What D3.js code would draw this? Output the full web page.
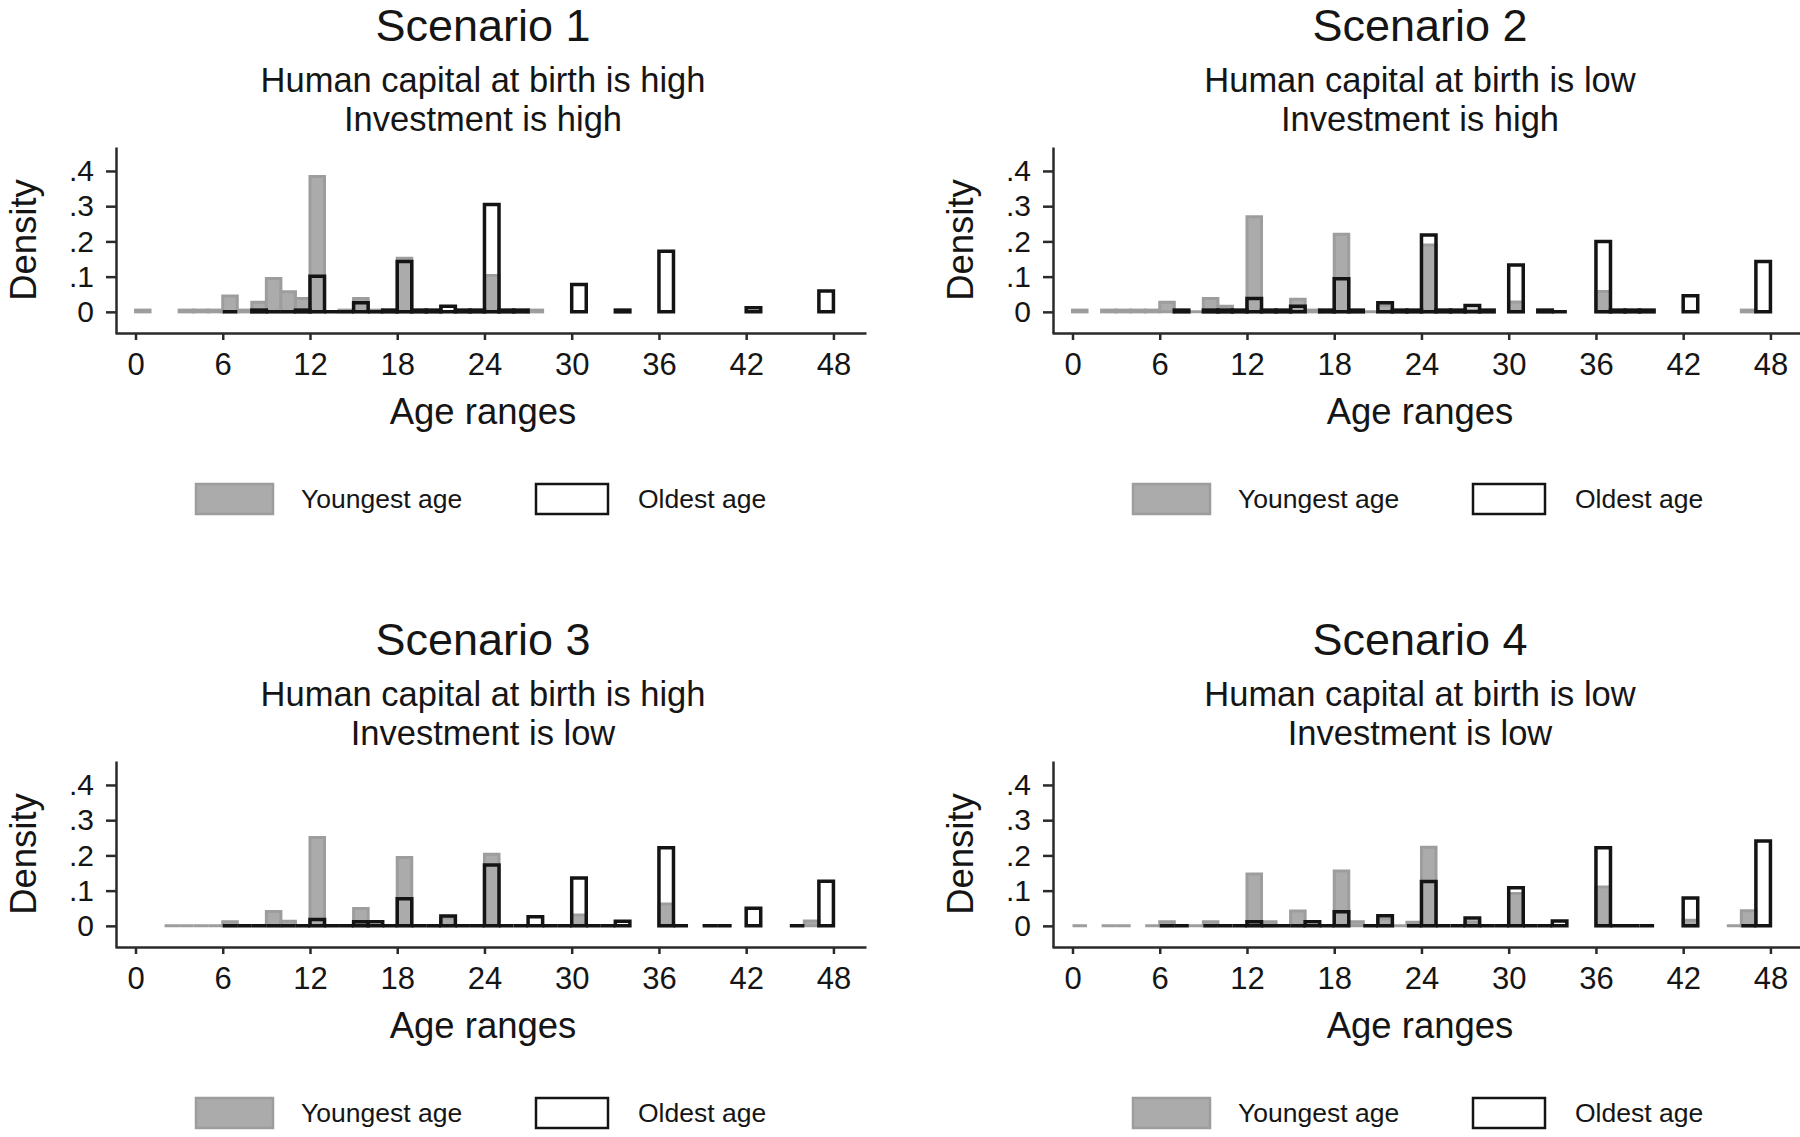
<!DOCTYPE html>
<html><head><meta charset="utf-8">
<script src="https://cdn.jsdelivr.net/npm/d3@7"></script>
<style>
body{margin:0;background:#fff}
svg{display:block}
text{font-family:"Liberation Sans",Arial,Helvetica,sans-serif;fill:#151515}
</style>
</head><body>
<svg id="chart" width="1800" height="1137"></svg>
<script>
const _ = null;
// bin start ages (months), each bin is one month wide
const binStarts = [0,1,2,3,4,5,6,7,8,9,10,11,12,13,14,15,16,17,18,19,20,21,22,23,24,25,26,27,28,29,30,31,32,33,34,35,36,37,38,39,40,41,42,43,44,45,46,47];
const xTicks = [0,6,12,18,24,30,36,42,48];
const yTicks = [0,0.1,0.2,0.3,0.4];
const yTickLabels = ["0",".1",".2",".3",".4"];
const scenarioTitles = ["Scenario 1","Scenario 2","Scenario 3","Scenario 4"];
const subtitleLine1 = ["Human capital at birth is high","Human capital at birth is low","Human capital at birth is high","Human capital at birth is low"];
const subtitleLine2 = ["Investment is high","Investment is high","Investment is low","Investment is low"];
const legendLabels = ["Youngest age","Oldest age"];
const xTitle = "Age ranges";
const yTitle = "Density";

// Scenario 1 densities (null = empty bin)
const youngest1 = [0.005,_,_,0.005,0.005,0.005,0.045,0.005,0.027,0.095,0.057,0.038,0.384,_,0.005,0.038,0.005,_,0.152,_,_,_,_,_,0.103,_,_,0.005,_,_,_,_,_,_,_,_,_,_,_,_,_,_,_,_,_,_,_,_];
const oldest1   = [_,_,_,_,_,_,0,_,0.005,0,0,0.005,0.101,0,0,0.026,0,0.005,0.143,0.005,0.005,0.016,0.005,0.005,0.305,0.005,0.005,_,_,_,0.078,_,_,0.005,_,_,0.172,_,_,_,_,_,0.012,_,_,_,_,0.059];
// Scenario 2
const youngest2 = [0.005,_,0.005,0.005,0.005,0.005,0.027,_,0,0.038,0.016,_,0.27,_,_,0.036,0.005,_,0.22,_,0,0.018,_,_,0.19,_,_,0.005,_,_,0.028,_,_,_,_,_,0.058,_,_,_,_,_,_,_,_,_,0.005,_];
const oldest2   = [_,_,_,_,_,_,_,0.005,_,0.005,0.005,0.005,0.038,0.005,0.005,0.016,_,0.005,0.094,0.005,_,0.026,0.005,0.005,0.218,0.005,0.005,0.018,0.005,_,0.133,_,0.005,0,_,_,0.2,0.005,0.005,0.005,_,_,0.046,_,_,_,_,0.143];
// Scenario 3
const youngest3 = [_,_,0,0,0,0,0.012,_,_,0.041,0.013,0,0.251,_,_,0.049,_,_,0.194,_,0,0.022,_,_,0.203,_,_,_,_,_,0.031,_,_,_,_,_,0.062,_,_,_,_,_,_,_,_,_,0.014,_];
const oldest3   = [_,_,_,_,_,_,0,0,0,0,0,0,0.018,0,0,0.012,0.012,0,0.077,0,0,0.028,0,0,0.173,0,0,0.026,0,0,0.136,0,0,0.013,_,_,0.222,0,_,0,0,_,0.05,_,_,0,_,0.127];
// Scenario 4
const youngest4 = [0,_,0,0,_,0,0.012,_,0,0.012,_,_,0.147,0.012,_,0.042,_,_,0.156,0.012,_,0.02,0,0.01,0.223,_,_,0.012,_,_,0.092,_,_,_,_,_,0.11,_,_,_,_,_,0.016,_,_,0,0.043,_];
const oldest4   = [_,_,_,_,_,_,0,0,_,0,0,0,0.012,0,0,0,0.012,0,0.04,_,0,0.029,_,0,0.126,0,0,0.022,0,0,0.108,0,0,0.014,_,_,0.222,0,0,0,_,_,0.079,_,_,_,0,0.241];

const youngestSeries = [youngest1,youngest2,youngest3,youngest4];
const oldestSeries = [oldest1,oldest2,oldest3,oldest4];

const svg = d3.select("#chart");
const panelOffsets = [[0,0],[937,0],[0,614],[937,614]];
const FONT = "Liberation Sans, Arial, Helvetica, sans-serif";

const x = d3.scaleLinear().domain([-1.41, 50.24]).range([115, 866]);
const y = d3.scaleLinear().domain([-0.06, 0.468]).range([333, 147]);

function barPath(d){
  const x0 = x(d.b), x1 = x(d.b + 1), y0 = y(0), y1 = y(d.v);
  return `M${x0},${y0}V${y1}H${x1}V${y0}Z`;
}

panelOffsets.forEach((off, i) => {
  const g = svg.append("g").attr("transform", `translate(${off[0]},${off[1]})`);
  const cx = 483;

  g.append("text").attr("x", cx).attr("y", 41).attr("text-anchor","middle")
    .attr("font-size", 45).text(scenarioTitles[i]);
  g.append("text").attr("x", cx).attr("y", 92).attr("text-anchor","middle")
    .attr("font-size", 34.5).text(subtitleLine1[i]);
  g.append("text").attr("x", cx).attr("y", 131).attr("text-anchor","middle")
    .attr("font-size", 34.5).text(subtitleLine2[i]);

  // bars: youngest (gray filled) then oldest (outline)
  const yData = binStarts.map((b,j)=>({b, v: youngestSeries[i][j]})).filter(d=>d.v!==null);
  const oData = binStarts.map((b,j)=>({b, v: oldestSeries[i][j]})).filter(d=>d.v!==null);

  g.append("g").selectAll("path").data(yData).join("path")
    .attr("d", barPath).attr("fill", "#ababab").attr("stroke", "#9d9d9d")
    .attr("stroke-width", 3).attr("stroke-linejoin","miter");
  g.append("g").selectAll("path").data(oData).join("path")
    .attr("d", barPath).attr("fill", "none").attr("stroke", "#141414")
    .attr("stroke-width", 3.5).attr("stroke-linejoin","miter");

  // axes
  const yAxis = g.append("g").attr("transform", "translate(116,0)")
    .call(d3.axisLeft(y).tickValues(yTicks).tickFormat((d,k)=>yTickLabels[k])
      .tickSize(10).tickSizeOuter(0).tickPadding(12));
  const xAxis = g.append("g").attr("transform", "translate(0,333)")
    .call(d3.axisBottom(x).tickValues(xTicks).tickSize(7).tickSizeOuter(0).tickPadding(13));
  [yAxis, xAxis].forEach(a => {
    a.attr("font-family", FONT);
    a.select(".domain").attr("stroke", "#2a2a2a").attr("stroke-width", 2.5);
    a.selectAll(".tick line").attr("stroke", "#2a2a2a").attr("stroke-width", 2.5);
    a.selectAll(".tick text").attr("fill", "#151515");
  });
  yAxis.attr("font-size", 30);
  xAxis.attr("font-size", 31);

  g.append("text").attr("transform", "translate(36,240) rotate(-90)")
    .attr("text-anchor","middle").attr("font-size", 36.5).text(yTitle);
  g.append("text").attr("x", cx).attr("y", 424).attr("text-anchor","middle")
    .attr("font-size", 36.5).text(xTitle);

  // legend
  g.append("rect").attr("x", 196).attr("y", 484).attr("width", 77).attr("height", 30)
    .attr("fill", "#ababab").attr("stroke", "#9d9d9d").attr("stroke-width", 2.5);
  g.append("text").attr("x", 301).attr("y", 508).attr("font-size", 26.5).text(legendLabels[0]);
  g.append("rect").attr("x", 536).attr("y", 484).attr("width", 72).attr("height", 30)
    .attr("fill", "#fff").attr("stroke", "#141414").attr("stroke-width", 2.5);
  g.append("text").attr("x", 638).attr("y", 508).attr("font-size", 26.5).text(legendLabels[1]);
});
</script>
</body></html>
